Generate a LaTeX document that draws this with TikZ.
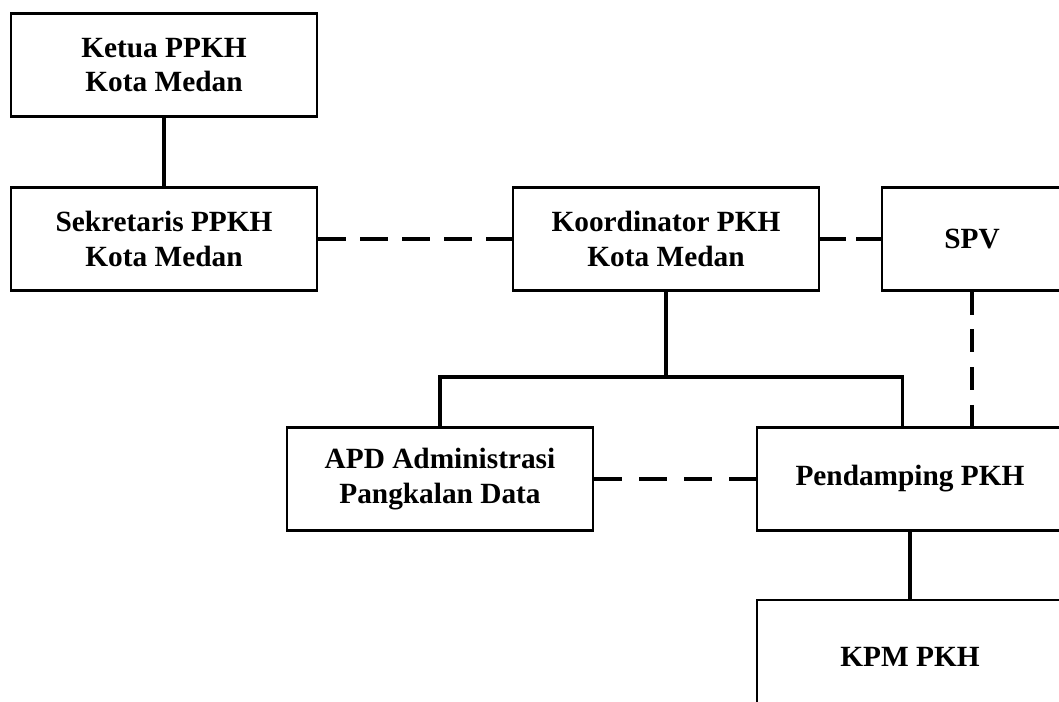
\documentclass[tikz,border=0pt]{standalone}
\usepackage{fontspec}
\setmainfont{Liberation Serif}
\tikzset{%
  orgbox/.style    = {shape=rectangle, draw, line width=2.2pt, align=center,%
                      minimum width=229.5pt, minimum height=77pt, inner sep=0pt,%
                      font=\fontsize{22}{26}\selectfont\bfseries},%
  solidlink/.style = {line width=2.3pt},%
  dashlink/.style args = {#1/#2}{line width=2.3pt, dash pattern=on #1 off #2}%
}
\begin{document}
\begin{tikzpicture}[x=0.75pt,y=-0.75pt]
	\clip (0,0) rectangle (1059,701);
	% boxes
	\node [orgbox] (ketua) at (164,65) {Ketua PPKH\\Kota Medan};
	\node [orgbox] (sekretaris) at (164,239) {Sekretaris PPKH\\Kota Medan};
	\node [orgbox] (koordinator) at (666,239) {Koordinator PKH\\Kota Medan};
	\node [orgbox, minimum width=135pt] (spv) at (972,239) {SPV};
	\node [orgbox] (apd) at (440,479) {APD Administrasi\\Pangkalan Data};
	\node [orgbox] (pendamping) at (910,479) {Pendamping PKH};
	\node [orgbox, minimum height=85.5pt] (kpm) at (910,657) {KPM PKH};
	\coordinate (bus) at (666,377);
	% connectors
	\draw [solidlink] (ketua) -- (sekretaris);
	\draw [dashlink=21pt/10.5pt] (sekretaris) -- (koordinator);
	\draw [dashlink=19.5pt/7.5pt] (koordinator) -- (spv);
	\draw [dashlink=17.25pt/11pt] (spv) -- (spv |- pendamping.north);
	\draw [solidlink] (koordinator) -- (bus);
	\draw [solidlink] (apd.north) |- (bus) -| ([xshift=-5.5pt]pendamping.north);
	\draw [dashlink=21pt/12.75pt] (apd) -- (pendamping);
	\draw [solidlink] (pendamping) -- (kpm);
\end{tikzpicture}
\end{document}
